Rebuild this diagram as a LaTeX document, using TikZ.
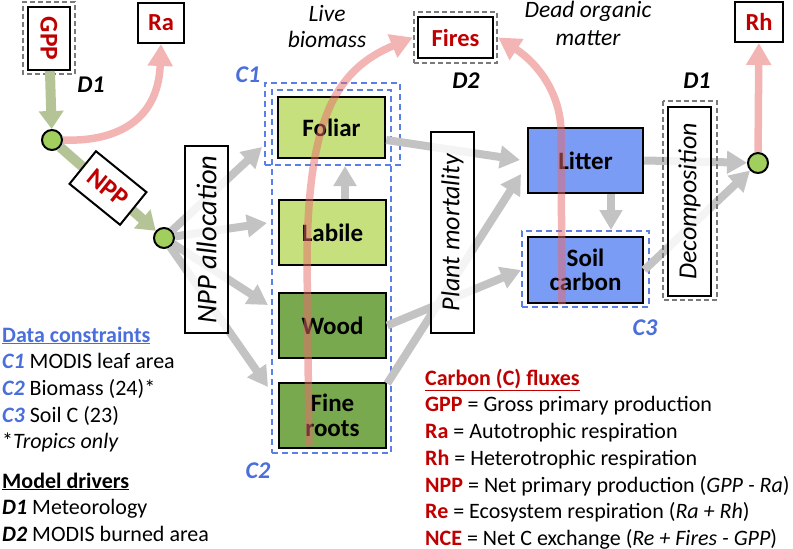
\documentclass[tikz,border=0pt]{standalone}
\usepackage{fontspec}
\setmainfont{Carlito}
\usetikzlibrary{arrows.meta}
\definecolor{lg}{HTML}{C6E07E}
\definecolor{dg}{HTML}{78A94F}
\definecolor{pb}{HTML}{7A9CF5}
\definecolor{cg}{HTML}{A0CF5E}
\definecolor{olv}{HTML}{B5C496}
\definecolor{pnk}{HTML}{E86A6A}
\definecolor{gry}{HTML}{C3C3C3}
\definecolor{dblue}{HTML}{5A7FE6}
\definecolor{rtxt}{HTML}{C00000}
\definecolor{btxt}{HTML}{4A6FDC}
\definecolor{dgray}{HTML}{7A7A7A}
\begin{document}
\begin{tikzpicture}[x=1pt,y=-1pt,
 pool/.style={draw=black, line width=2.5pt, minimum width=107pt, minimum height=63pt, font=\fontsize{25}{28}\selectfont\bfseries, align=center, inner sep=0pt},
 proc/.style={draw=black, line width=2pt, fill=white, fill opacity=0.82, text opacity=1, rotate=90, minimum height=43pt, font=\fontsize{26}{30}\selectfont\itshape, inner sep=0pt},
 flux/.style={draw=black, line width=2pt, fill=white, font=\fontsize{24.5}{28}\selectfont\bfseries, text=rtxt, inner sep=0pt},
 gdash/.style={draw=dgray, line width=2.5pt, dash pattern=on 5pt off 3pt, inner sep=0pt},
 bdash/.style={draw=dblue, line width=2pt, dash pattern=on 6pt off 4pt, inner sep=0pt},
 dot/.style={circle, draw=black, line width=2pt, fill=cg, minimum size=20pt, inner sep=0pt},
 garrow/.style={draw=gry, line width=8pt, -{Triangle[length=20pt,width=22pt]}},
 oarrow/.style={draw=olv, line width=10pt, -{Triangle[length=18pt,width=24pt]}},
 parrow/.style={draw=pnk, line width=7.5pt, -{Triangle[length=22pt,width=24pt]}},
 lab/.style={font=\fontsize{24}{28}\selectfont\bfseries\itshape, anchor=base, inner sep=0pt},
 ital/.style={font=\fontsize{23.5}{28}\selectfont\itshape, anchor=base, inner sep=0pt},
 leg/.style={font=\fontsize{22}{26}\selectfont, anchor=base west, inner sep=0pt}
]
\useasboundingbox (0,0) rectangle (793,549);

% circles
\node[dot] (c1) at (52,140) {};
\node[dot] (c2) at (164,238) {};
\node[dot] (c3) at (758,163) {};

% flux boxes
\node[gdash, minimum width=72pt, minimum height=52pt, rotate=-90] (gppd) at (49,38) {};
\node[flux, minimum width=63pt, minimum height=42pt, rotate=-90, font=\fontsize{25.5}{28}\selectfont\bfseries] (gpp) at (49,38.5) {GPP};
\node[flux, minimum width=46pt, minimum height=40pt] (ra) at (161,23) {Ra};
\node[gdash, minimum width=83pt, minimum height=51pt] (firesd) at (455.5,37.5) {};
\node[flux, minimum width=75pt, minimum height=41pt] (fires) at (455.5,37.5) {Fires};
\node[flux, minimum width=48pt, minimum height=40pt] (rh) at (759,22) {Rh};

% olive arrows
\draw[oarrow] (gpp) -- (c1);
\draw[oarrow] (c1) -- (c2);
\node[flux, minimum width=65pt, minimum height=42pt, rotate=-39, font=\fontsize{26}{28}\selectfont\bfseries] (npp) at (108,188) {NPP};

% pools
\node[pool, fill=lg, minimum height=61pt] (foliar) at (331.5,127.5) {Foliar};
\node[pool, fill=lg, minimum height=65pt] (labile) at (332.5,232.5) {Labile};
\node[pool, fill=dg, minimum height=65pt] (wood) at (332.5,325.5) {Wood};
\node[pool, fill=dg, minimum height=65pt] (fine) at (332.5,415.5) {Fine\\[-3pt]roots};
\node[pool, fill=pb, minimum width=115pt, minimum height=65pt] (litter) at (585.5,160.5) {Litter};
\node[pool, fill=pb, minimum width=115pt, minimum height=66pt] (soil) at (585.5,270) {Soil\\[-4pt]carbon};

% constraint frames
\node[bdash, minimum width=135pt, minimum height=82pt] (c1box) at (332.5,124) {};
\node[bdash, minimum width=119pt, minimum height=363pt] (c2box) at (331.5,271.5) {};
\node[bdash, minimum width=127pt, minimum height=76pt] (c3box) at (585.5,269) {};

% gray arrows
\coordinate (tfol) at (262,147);
\coordinate (tlab) at (267,223);
\coordinate (twood) at (268,305);
\coordinate (tfine) at (268,387);
\coordinate (tlit1) at (520,160);
\coordinate (tlit2) at (521,174);
\coordinate (tsoil) at (521,270);
\draw[garrow] (c2) -- (tfol);
\draw[garrow] (c2) -- (tlab);
\draw[garrow] (c2) -- (twood);
\draw[garrow] (c2) -- (tfine);
\draw[garrow] ([xshift=12.5pt]labile.north) -- ([xshift=12.5pt]c1box.south);
\draw[garrow] ([yshift=-12.5pt]foliar.east) -- (tlit1);
\draw[garrow] ([yshift=32pt]fine.east) -- (tlit2);
\draw[garrow] (wood.east) -- (tsoil);
\draw[garrow] ([xshift=25.5pt]litter.south) -- ([xshift=25.5pt]c3box.north);
\draw[garrow] (litter.east) -- (c3);
\draw[garrow] (soil.east) -- (c3);

% process boxes
\node[proc, minimum width=187pt, font=\fontsize{28.5}{30}\selectfont\itshape] (alloc) at (206.5,239.5) {NPP allocation};
\node[proc, minimum width=201pt] (mort) at (452.5,232.5) {Plant mortality};
\node[gdash, minimum width=199pt, minimum height=54pt, rotate=90] (decd) at (690,200.5) {};
\node[proc, minimum width=189pt] (decomp) at (689.5,201.5) {Decomposition};

% pink arrows (semi-transparent as a group)
\begin{scope}[transparency group, opacity=0.5]
\draw[parrow] (c1.east) .. controls (110,142) and (158,125) .. (ra.south);
\draw[parrow] (c3) -- (rh);
\draw[parrow] ([xshift=-23.5pt,yshift=3pt]fine.south) -- (307,260) .. controls (308,120) and (335,70) .. (firesd.west);
\draw[parrow] ([xshift=-23.5pt]soil.south) -- (561,130) .. controls (560,95) and (540,65) .. (firesd.east);
\end{scope}

% labels
\node[ital] (live1) at (327,21) {Live};
\node[ital] (live2) at (327,47) {biomass};
\node[ital] (dead1) at (588,17) {Dead organic};
\node[ital] (dead2) at (588,45) {matter};
\node[lab, text=btxt] (lc1) at (248,82) {C1};
\node[lab, text=btxt] (lc2) at (258,478) {C2};
\node[lab, text=btxt] (lc3) at (645,335) {C3};
\node[lab] (ld1a) at (91,92) {D1};
\node[lab] (ld1b) at (697,88) {D1};
\node[lab] (ld2) at (466,88) {D2};

% left legend
\node[leg, text=btxt, font=\fontsize{22}{26}\selectfont\bfseries] (dc) at (2,342) {\underline{Data constraints}};
\node[leg] (dc1) at (2,368) {\textcolor{btxt}{\textbf{\textit{C1}}} MODIS leaf area};
\node[leg] (dc2) at (2,395) {\textcolor{btxt}{\textbf{\textit{C2}}} Biomass (24)*};
\node[leg] (dc3) at (2,422) {\textcolor{btxt}{\textbf{\textit{C3}}} Soil C (23)};
\node[leg] (dc4) at (2,448) {*\textit{Tropics only}};
\node[leg, font=\fontsize{22}{26}\selectfont\bfseries] (md) at (2,488) {\underline{Model drivers}};
\node[leg] (md1) at (2,514) {\textbf{\textit{D1}} Meteorology};
\node[leg] (md2) at (2,541) {\textbf{\textit{D2}} MODIS burned area};

% right legend
\node[leg, text=rtxt, font=\fontsize{22}{26}\selectfont\bfseries] (cf) at (425,385) {\underline{Carbon (C) fluxes}};
\node[leg] (cf1) at (425,411) {\textcolor{rtxt}{\textbf{GPP}} = Gross primary production};
\node[leg] (cf2) at (425,438) {\textcolor{rtxt}{\textbf{Ra}} = Autotrophic respiration};
\node[leg] (cf3) at (425,465) {\textcolor{rtxt}{\textbf{Rh}} = Heterotrophic respiration};
\node[leg] (cf4) at (425,492) {\textcolor{rtxt}{\textbf{NPP}} = Net primary production (\textit{GPP - Ra})};
\node[leg] (cf5) at (425,518) {\textcolor{rtxt}{\textbf{Re}} = Ecosystem respiration (\textit{Ra + Rh})};
\node[leg] (cf6) at (425,545) {\textcolor{rtxt}{\textbf{NCE}} = Net C exchange (\textit{Re + Fires - GPP})};
\end{tikzpicture}
\end{document}
